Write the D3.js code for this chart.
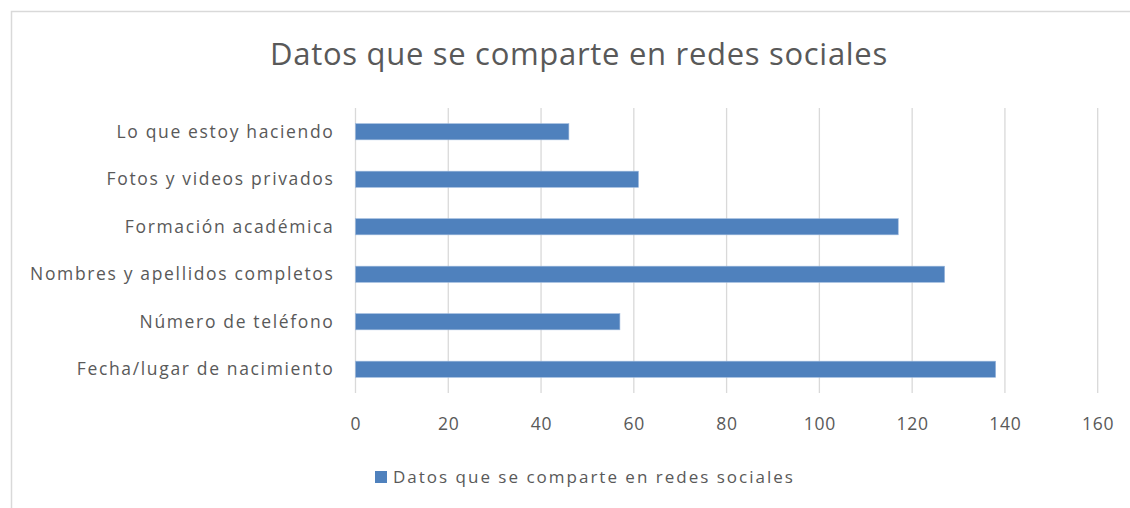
<!DOCTYPE html>
<html>
<head>
<meta charset="utf-8">
<script src="https://cdn.jsdelivr.net/npm/d3@7/dist/d3.min.js"></script>
<style>
  html, body { margin: 0; padding: 0; background: #fff; }
  svg { display: block; }
  text { font-family: "Open Sans", Lato, sans-serif; fill: #595959; }
</style>
</head>
<body>
<svg id="chart" width="1130" height="508"></svg>
<script>
// Chart content
const title = "Datos que se comparte en redes sociales";
const seriesName = "Datos que se comparte en redes sociales";
const categories = [
  "Lo que estoy haciendo",
  "Fotos y videos privados",
  "Formación académica",
  "Nombres y apellidos completos",
  "Número de teléfono",
  "Fecha/lugar de nacimiento"
];
const values = [46, 61, 117, 127, 57, 138];
const xTicks = [0, 20, 40, 60, 80, 100, 120, 140, 160];

const svg = d3.select("#chart");
const W = 1130, H = 508;

// Chart area frame
svg.append("rect")
  .attr("x", 11.5).attr("y", 11.5)
  .attr("width", W).attr("height", H)
  .attr("fill", "#fff")
  .attr("stroke", "#d9d9d9")
  .attr("stroke-width", 1.5);

const plot = { left: 355.5, right: 1097.7, top: 108, bottom: 393 };

const x = d3.scaleLinear().domain([0, 160]).range([plot.left, plot.right]);
const y = d3.scaleBand().domain(categories)
  .range([plot.top, plot.bottom])
  .paddingInner(0.66).paddingOuter(0.33);

// Vertical gridlines
svg.append("g")
  .selectAll("line")
  .data(xTicks)
  .join("line")
  .attr("x1", d => x(d)).attr("x2", d => x(d))
  .attr("y1", plot.top).attr("y2", plot.bottom)
  .attr("stroke", "#d9d9d9")
  .attr("stroke-width", 1.3);

// Bars
svg.append("g")
  .selectAll("rect")
  .data(values)
  .join("rect")
  .attr("x", x(0))
  .attr("y", (d, i) => y(categories[i]))
  .attr("width", d => x(d) - x(0))
  .attr("height", y.bandwidth())
  .attr("fill", "#4f81bd")
  .attr("stroke", "#9bb7dc")
  .attr("stroke-width", 0.6);

// X axis tick labels
const xAxis = d3.axisBottom(x).tickValues(xTicks).tickSize(0).tickPadding(0);
const gx = svg.append("g")
  .attr("transform", `translate(0,${plot.bottom})`)
  .call(xAxis);
gx.select(".domain").remove();
gx.selectAll("text")
  .attr("dy", null)
  .attr("y", 37)
  .style("font-family", "\"Open Sans\", sans-serif")
  .style("font-size", "17.5px")
  .style("letter-spacing", "0.8px")
  .style("fill", "#595959");

// Y axis category labels
const yAxis = d3.axisLeft(y).tickSize(0).tickPadding(0);
const gy = svg.append("g")
  .attr("transform", `translate(${plot.left - 21},0)`)
  .call(yAxis);
gy.select(".domain").remove();
gy.selectAll("text")
  .attr("dy", "0.35em")
  .style("font-family", "\"Open Sans\", sans-serif")
  .style("font-size", "17.5px")
  .style("letter-spacing", "1.65px")
  .style("fill", "#595959");

// Title
svg.append("text")
  .attr("x", 579).attr("y", 65)
  .attr("text-anchor", "middle")
  .style("font-size", "31px")
  .style("letter-spacing", "0.7px")
  .text(title);

// Legend
const leg = svg.append("g").attr("transform", "translate(375,471)");
leg.append("rect")
  .attr("width", 12).attr("height", 12)
  .attr("fill", "#4f81bd");
leg.append("text")
  .attr("x", 18).attr("y", 6)
  .attr("dy", "0.35em")
  .style("font-size", "17px")
  .style("letter-spacing", "2px")
  .text(seriesName);
</script>
</body>
</html>
